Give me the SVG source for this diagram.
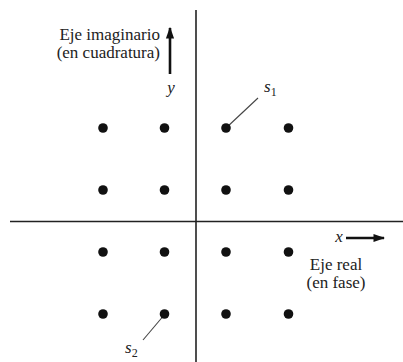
<svg xmlns="http://www.w3.org/2000/svg" width="403" height="362" viewBox="0 0 403 362">
<defs>
<style>
.t{font-size:17px;fill:#222}
.i{font-style:italic}
.ax{stroke:#222;stroke-width:1.6;fill:none}
.ln{stroke:#444;stroke-width:1.1}
.dot{fill:#111}
</style>
<marker id="ah" viewBox="0 0 10 10" refX="9" refY="5" markerWidth="4.5" markerHeight="4.5" orient="auto" markerUnits="strokeWidth">
<path d="M0,1.5 L10,5 L0,8.5 Z" fill="#111"/>
</marker>
</defs>
<g id="axes">
<line class="ax" x1="196" y1="10" x2="196" y2="362"/>
<line class="ax" x1="10" y1="221.5" x2="403" y2="221.5"/>
</g>
<g id="connectors">
<line stroke="#111" stroke-width="2.6" x1="170" y1="74" x2="170" y2="28" marker-end="url(#ah)"/>
<line stroke="#111" stroke-width="2.6" x1="346" y1="238" x2="384" y2="238" marker-end="url(#ah)"/>
<line class="ln" x1="226" y1="128" x2="258" y2="98"/>
<line class="ln" x1="165" y1="314" x2="143" y2="340"/>
</g>
<g id="dots">
<circle class="dot" cx="103" cy="128" r="4.8"/>
<circle class="dot" cx="164.5" cy="128" r="4.8"/>
<circle class="dot" cx="226" cy="128" r="4.8"/>
<circle class="dot" cx="288.5" cy="128" r="4.8"/>
<circle class="dot" cx="103" cy="190" r="4.8"/>
<circle class="dot" cx="164.5" cy="190" r="4.8"/>
<circle class="dot" cx="226" cy="190" r="4.8"/>
<circle class="dot" cx="288.5" cy="190" r="4.8"/>
<circle class="dot" cx="103" cy="252" r="4.8"/>
<circle class="dot" cx="164.5" cy="252" r="4.8"/>
<circle class="dot" cx="226" cy="252" r="4.8"/>
<circle class="dot" cx="288.5" cy="252" r="4.8"/>
<circle class="dot" cx="103" cy="314" r="4.8"/>
<circle class="dot" cx="164.5" cy="314" r="4.8"/>
<circle class="dot" cx="226" cy="314" r="4.8"/>
<circle class="dot" cx="288.5" cy="314" r="4.8"/>
</g>
<g id="labels" font-family="Liberation Serif, Times New Roman, serif">
<g id="label-y">
<text class="t" x="160" y="40" text-anchor="end">Eje imaginario</text>
<text class="t" x="160" y="58" text-anchor="end">(en cuadratura)</text>
<text class="t i" x="171" y="93" text-anchor="middle">y</text>
</g>
<g id="label-x">
<text class="t i" x="339" y="242" text-anchor="middle">x</text>
<text class="t" x="336" y="270" text-anchor="middle">Eje real</text>
<text class="t" x="336" y="288" text-anchor="middle">(en fase)</text>
</g>
<g id="label-s1">
<text class="t i" x="264" y="92">s<tspan font-size="12" font-style="normal" dy="4">1</tspan></text>
</g>
<g id="label-s2">
<text class="t i" x="125" y="353">s<tspan font-size="12" font-style="normal" dy="4">2</tspan></text>
</g>
</g>
</svg>
